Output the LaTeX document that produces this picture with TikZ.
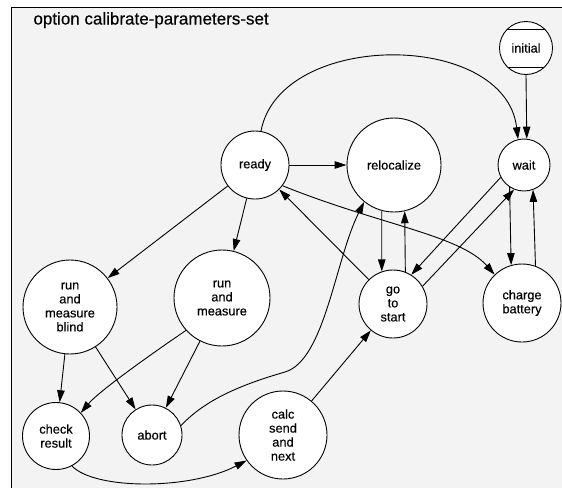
\documentclass[tikz,border=0pt]{standalone}
\usepackage{fontspec}
\setmainfont{Liberation Sans}
\newfontfamily\labelfont[FakeBold=0.35]{Liberation Sans}
\usetikzlibrary{arrows.meta}
\definecolor{PanelGray}{RGB}{243,243,243}

\begin{document}
\begin{tikzpicture}[x=1pt, y=-1pt, line width=0.9pt,
	st/.style={circle, draw, fill=white, inner sep=0pt, align=center, font=\labelfont\fontsize{12.8}{14}\selectfont},
	fl/.style={-{Triangle[length=12pt, width=7.5pt]}}]

	\useasboundingbox (0,0) rectangle (562,488);
	% --- panel ---
	\fill[PanelGray] (11.5,7.5) rectangle (562,488);
	\draw (11.5,488) -- (11.5,7.5) -- (562,7.5);
	\node[anchor=base west, inner sep=0pt, font=\labelfont\fontsize{17}{19}\selectfont] (title) at (33,24.5) {option calibrate-parameters-set};

	% --- states ---
	\node[st, minimum size=53pt, path picture={
		\draw ([yshift=19pt]path picture bounding box.west) -- ([yshift=19pt]path picture bounding box.east);
		\draw ([yshift=-19pt]path picture bounding box.west) -- ([yshift=-19pt]path picture bounding box.east);}]
		(initial) at (526,48) {initial};
	\node[st, minimum size=52pt] (wait) at (524,165) {wait};
	\node[st, minimum size=68pt] (ready) at (255,165) {ready};
	\node[st, minimum size=94pt] (relocalize) at (394,165) {relocalize};
	\node[st, minimum size=68pt] (gotostart) at (393,304) {go\\to\\start};
	\node[st, minimum size=78pt] (charge) at (522,303) {charge\\battery};
	\node[st, minimum size=94pt] (rmblind) at (70,307) {run\\and\\measure\\blind};
	\node[st, minimum size=96pt] (rmeasure) at (222,298) {run\\and\\measure};
	\node[st, minimum size=67pt] (check) at (56,436) {check\\result};
	\node[st, minimum size=60pt] (abort) at (152,435) {abort};
	\node[st, minimum size=88pt] (calc) at (283,435) {calc\\send\\and\\next};

	% --- transitions ---
	\draw[fl] (initial.south) -- (wait.84);
	\draw[fl] (ready.80) .. controls (280,30) and (505,30) .. (wait.103);
	\draw[fl] (ready) -- (relocalize);
	\draw[fl] (ready) -- (rmblind);
	\draw[fl] (ready) -- (rmeasure);
	\draw[fl] (ready.-37) .. controls (380,225) and (460,235) .. (charge.134);
	\draw[fl] (gotostart) -- (ready);
	\draw[fl] (relocalize.255) -- (gotostart.109);
	\draw[fl] (gotostart.69) -- (relocalize.283);
	\draw[fl] (wait.208) -- (gotostart.58);
	\draw[fl] (gotostart.31) -- (wait.248);
	\draw[fl] (wait.237) -- (charge.106);
	\draw[fl] (charge.70) -- (wait.290);
	\draw[fl] (rmblind) -- (check);
	\draw[fl] (rmblind) -- (abort);
	\draw[fl] (rmeasure.222) .. controls (160,348) and (100,390) .. (check.43);
	\draw[fl] (rmeasure) -- (abort);
	\draw[fl] (abort.18) .. controls (205,400) and (240,385) .. (285,372)
		.. controls (325,360) and (335,260) .. (relocalize.231);
	\draw[fl] (check.-62) .. controls (95,490) and (190,490) .. (calc.215);
	\draw[fl] (calc) -- (gotostart);
\end{tikzpicture}
\end{document}
